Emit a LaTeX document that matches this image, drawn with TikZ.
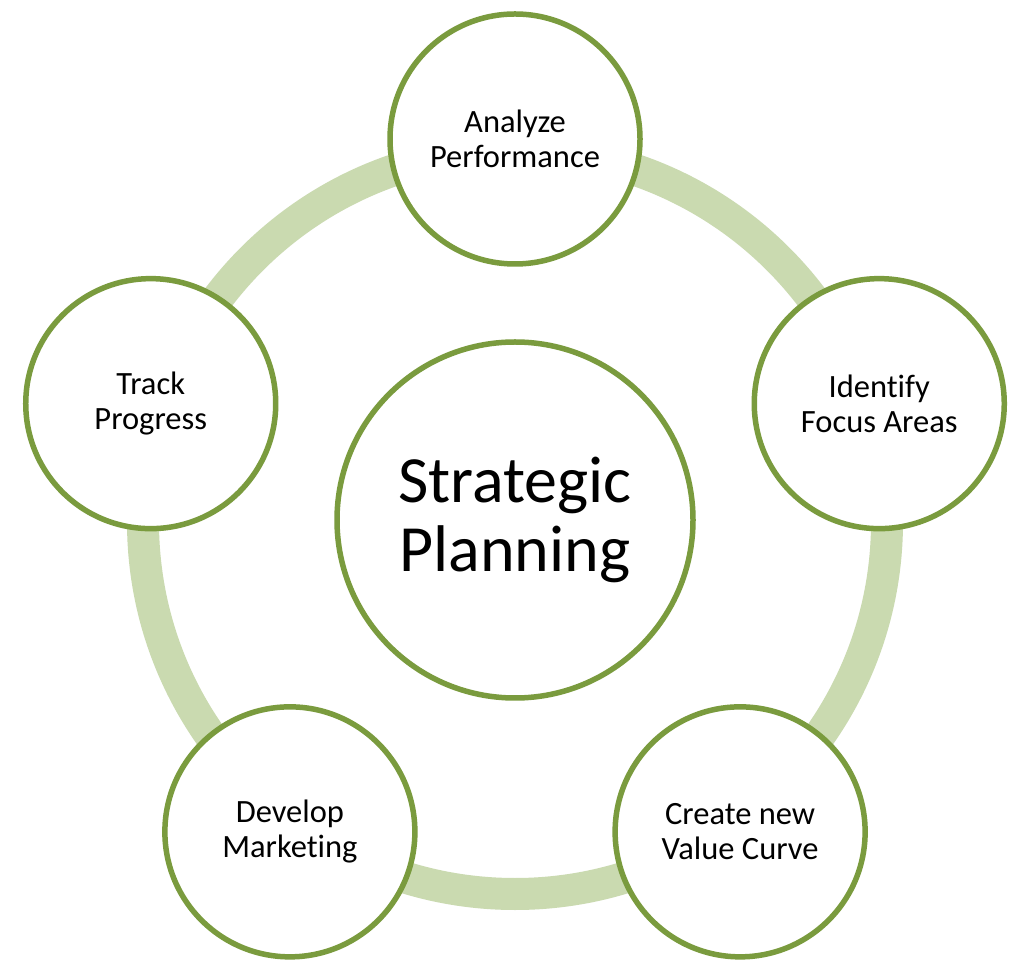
\documentclass[tikz,border=0pt]{standalone}
\usepackage{fontspec}
\setmainfont{Carlito}[Ligatures=NoCommon]
\definecolor{ringGreen}{RGB}{202,218,176}
\definecolor{edgeGreen}{RGB}{122,155,62}
\tikzset{%
stepCircle/.style={circle,draw=edgeGreen,line width=5.5pt,fill=white,minimum size=250pt,inner sep=0pt,align=center,font=\fontsize{32.5}{35}\selectfont},%
hubCircle/.style={stepCircle,minimum size=356pt,font=\fontsize{66}{69}\selectfont}%
}
\begin{document}
\begin{tikzpicture}[x=1pt,y=1pt]%
\useasboundingbox (0,0) rectangle (1024,969);%
\fill[white] (0,0) rectangle (1024,969);%
\def\cx{515};%
\def\cy{447};%
\def\orbit{383};%
\coordinate (hub) at (\cx,\cy);%
% ring behind the steps
\draw[ringGreen,line width=32pt] (hub) circle (372pt);%
%
\node[hubCircle] (strategic) at (\cx,\cy+2) {Strategic\\Planning};%
%
\def\ang{90};%
\node[stepCircle] (analyze) at ([shift={(\ang:\orbit)}]hub) {Analyze\\Performance};%
\def\ang{18};%
\node[stepCircle] (identify) at ([shift={(\ang:\orbit)}]hub) {Identify\\Focus Areas};%
\def\ang{-54};%
\node[stepCircle] (create) at ([shift={(\ang:\orbit)}]hub) {Create new\\Value Curve};%
\def\ang{-126};%
\node[stepCircle] (develop) at ([shift={(\ang:\orbit)}]hub) {Develop\\Marketing};%
\def\ang{162};%
\node[stepCircle] (track) at ([shift={(\ang:\orbit)}]hub) {Track\\Progress};%
\end{tikzpicture}
\end{document}
